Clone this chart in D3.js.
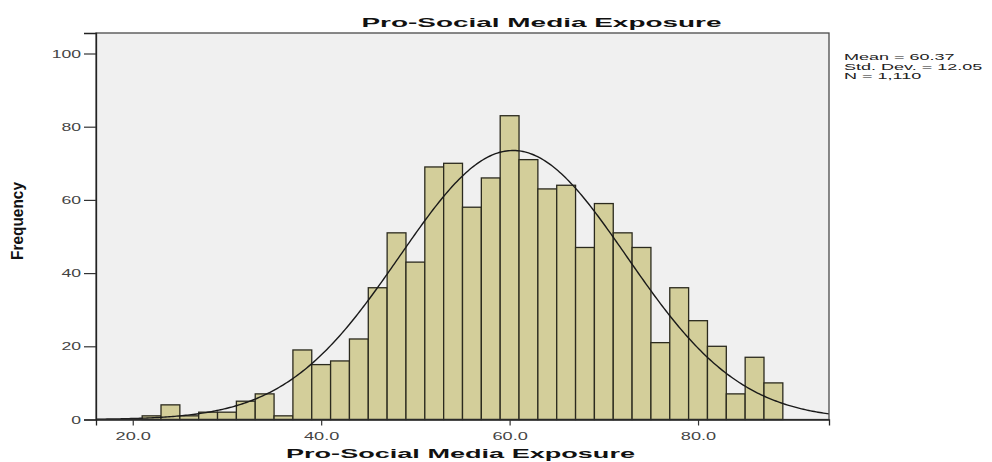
<!DOCTYPE html>
<html>
<head>
<meta charset="utf-8">
<script src="https://cdn.jsdelivr.net/npm/d3@7"></script>
<style>
  html, body { margin: 0; padding: 0; background: #fff; }
  svg { display: block; font-family: "Liberation Sans", Arial, sans-serif; }
</style>
</head>
<body>
<svg id="chart" width="992" height="462"></svg>
<script>
// Histogram of Pro-Social Media Exposure scores (bin width 2)
const binCenters = [22, 24, 26, 28, 30, 32, 34, 36, 38, 40, 42, 44, 46, 48, 50, 52, 54,
                    56, 58, 60, 62, 64, 66, 68, 70, 72, 74, 76, 78, 80, 82, 84, 86, 88];
const frequencies = [1, 4, 1, 2, 2, 5, 7, 1, 19, 15, 16, 22, 36, 51, 43, 69, 70,
                     58, 66, 83, 71, 63, 64, 47, 59, 51, 47, 21, 36, 27, 20, 7, 17, 10];
const binWidth = 2;

// Summary statistics used for the fitted normal curve
const meanValue = 60.37;
const stdDev = 12.05;
const sampleSize = 1110;

const xTicks = [20, 40, 60, 80];
const yTicks = [0, 20, 40, 60, 80, 100];
const statLines = ["Mean = 60.37", "Std. Dev. = 12.05", "N = 1,110"];
const chartTitle = "Pro-Social Media Exposure";
const xTitle = "Pro-Social Media Exposure";
const yTitle = "Frequency";

const svg = d3.select("#chart");
const plot = { left: 96, right: 829, top: 33, bottom: 419.5 };

const x = d3.scaleLinear().domain([16.1, 93.9]).range([plot.left, plot.right]);
const y = d3.scaleLinear().domain([0, 105.6]).range([plot.bottom, plot.top]);

// stretch text horizontally by a factor, keeping glyph height
function stretch(sel, k) {
  sel.each(function () {
    const w = this.getComputedTextLength();
    d3.select(this).attr("textLength", w * k).attr("lengthAdjust", "spacingAndGlyphs");
  });
}

// plot background
svg.append("rect")
  .attr("x", plot.left).attr("y", plot.top)
  .attr("width", plot.right - plot.left).attr("height", plot.bottom - plot.top)
  .attr("fill", "#f0f0f0");

// bars
const bins = binCenters.map((c, i) => ({ c, f: frequencies[i] }));
svg.append("g").selectAll("rect").data(bins).join("rect")
  .attr("x", d => x(d.c - binWidth / 2))
  .attr("y", d => y(d.f))
  .attr("width", d => x(d.c + binWidth / 2) - x(d.c - binWidth / 2))
  .attr("height", d => y(0) - y(d.f))
  .attr("fill", "#d3ce9a")
  .attr("stroke", "#2b2a1e")
  .attr("stroke-width", 1.3);

// fitted normal curve
const scaleFactor = sampleSize * binWidth / (stdDev * Math.sqrt(2 * Math.PI));
const curvePts = d3.range(0, 401).map(i => {
  const v = 16.1 + (93.9 - 16.1) * i / 400;
  const z = (v - meanValue) / stdDev;
  return [v, scaleFactor * Math.exp(-0.5 * z * z)];
});
svg.append("path")
  .datum(curvePts)
  .attr("fill", "none")
  .attr("stroke", "#1a1a1a")
  .attr("stroke-width", 1.4)
  .attr("d", d3.line().x(d => x(d[0])).y(d => y(d[1])));

// frame
svg.append("rect")
  .attr("x", plot.left).attr("y", plot.top)
  .attr("width", plot.right - plot.left).attr("height", plot.bottom - plot.top)
  .attr("fill", "none").attr("stroke", "#4a4a4a").attr("stroke-width", 1.3);

// y axis
const yAxis = svg.append("g")
  .attr("transform", `translate(${plot.left},0)`)
  .call(d3.axisLeft(y).tickValues(yTicks).tickSize(12).tickPadding(3).tickFormat(d3.format("d")));
yAxis.select(".domain").attr("stroke", "#222").attr("stroke-width", 1.3);
yAxis.selectAll(".tick line").attr("stroke", "#333").attr("stroke-width", 1.2);
yAxis.selectAll(".tick text")
  .attr("font-size", 11).attr("fill", "#444")
  .attr("font-family", "Liberation Sans, Arial, sans-serif")
  .call(stretch, 1.6);

// x axis
const xAxis = svg.append("g")
  .attr("transform", `translate(0,${plot.bottom})`)
  .call(d3.axisBottom(x).tickValues(xTicks).tickSize(6).tickPadding(7).tickFormat(d3.format(".1f")));
xAxis.select(".domain").attr("stroke", "#222").attr("stroke-width", 1.3);
xAxis.selectAll(".tick line").attr("stroke", "#333").attr("stroke-width", 1.2);
xAxis.selectAll(".tick text")
  .attr("font-size", 11).attr("fill", "#444")
  .attr("font-family", "Liberation Sans, Arial, sans-serif")
  .call(stretch, 1.65);

// titles
svg.append("text")
  .attr("x", 541.5).attr("y", 27)
  .attr("text-anchor", "middle")
  .attr("font-size", 13).attr("font-weight", "bold").attr("fill", "#111")
  .attr("textLength", 360).attr("lengthAdjust", "spacingAndGlyphs")
  .text(chartTitle);

svg.append("text")
  .attr("x", 460.5).attr("y", 458)
  .attr("text-anchor", "middle")
  .attr("font-size", 13).attr("font-weight", "bold").attr("fill", "#111")
  .attr("textLength", 349).attr("lengthAdjust", "spacingAndGlyphs")
  .text(xTitle);

svg.append("text")
  .attr("transform", "translate(22.5,221) scale(1.55,1) rotate(-90)")
  .attr("text-anchor", "middle")
  .attr("font-size", 11).attr("font-weight", "bold").attr("fill", "#111")
  .attr("textLength", 78).attr("lengthAdjust", "spacingAndGlyphs")
  .text(yTitle);

// statistics box
svg.append("g").selectAll("text").data(statLines).join("text")
  .attr("x", 844)
  .attr("y", (d, i) => 60 + i * 9.5)
  .attr("font-size", 9).attr("fill", "#222")
  .text(d => d)
  .call(stretch, 2.0);
</script>
</body>
</html>
